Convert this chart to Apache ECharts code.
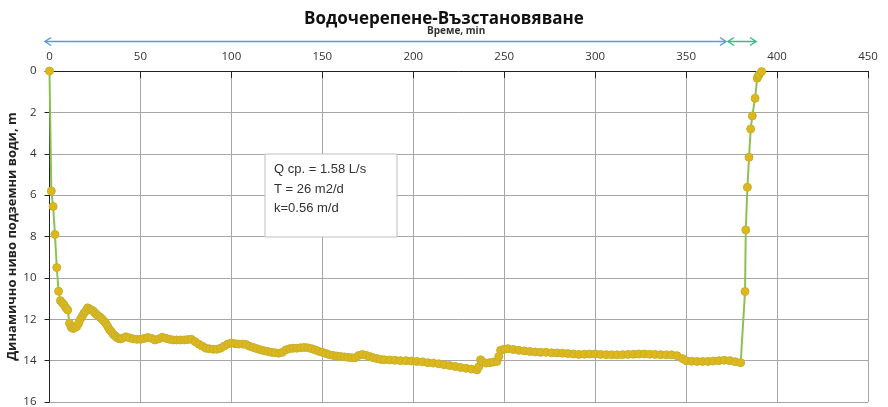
<!DOCTYPE html>
<html>
<head>
<meta charset="utf-8">
<script src="https://cdn.jsdelivr.net/npm/echarts@6/dist/echarts.min.js"></script>
<style>
html,body{margin:0;padding:0;background:#fff;}
#chart{width:888px;height:407px;}
</style>
</head>
<body>
<div id="chart"></div>
<script>
// ---- data ----
const chartTitle = 'Водочерепене-Възстановяване';
const xAxisName = 'Време, min';
const yAxisName = 'Динамично ниво подземни води, m';
const infoLines = ['Q ср. = 1.58 L/s', 'T = 26 m2/d', 'k=0.56 m/d'];

const timeMin = [
  0,1,2,3,4,5,6,7,8,9,10,11,12,13,14,15,16,17,18,19,20,21,22,23,24,25,26,27,28,29,30,
  31,32,33,34,35,36,37,38,39,40,42,44,46,48,50,52,54,56,58,60,62,64,66,68,70,72,74,76,78,
  80,82,84,86,88,90,92,94,96,98,100,102,104,106,108,110,112,114,116,118,120,122,124,126,128,
  130,132,134,136,138,140,142,144,146,148,150,152,154,156,158,160,162,164,166,168,170,172,174,
  176,178,180,182,184,187,190,193,196,199,202,205,208,211,214,217,220,223,226,229,232,235,
  236,237,238,240,242,244,246,247,248,250,252,255,258,261,264,267,270,273,276,279,282,285,
  288,291,294,297,300,303,306,309,312,315,318,321,324,327,330,333,336,339,342,345,348,350,
  353,356,359,362,365,368,371,374,377,380,
  382.4,382.8,383.7,384.6,385.5,386.4,387.9,389.1,389.6,390,391.5
];
const levelM = [
  0,5.8,6.55,7.9,9.5,10.65,11.1,11.2,11.3,11.45,11.55,12.2,12.4,12.45,12.4,12.35,12.2,12.0,11.85,11.7,11.6,11.45,11.5,11.55,11.6,11.7,11.78,11.85,11.92,12.0,12.1,
  12.2,12.35,12.5,12.6,12.72,12.8,12.88,12.93,12.95,12.92,12.85,12.9,12.95,12.97,12.97,12.93,12.88,12.92,13.0,12.95,12.87,12.92,12.97,13.0,13.0,13.0,13.0,12.98,12.97,
  13.08,13.2,13.3,13.4,13.43,13.45,13.45,13.4,13.3,13.2,13.15,13.18,13.2,13.2,13.22,13.3,13.36,13.42,13.48,13.52,13.56,13.6,13.62,13.64,13.6,
  13.48,13.42,13.4,13.4,13.38,13.36,13.38,13.42,13.48,13.55,13.6,13.66,13.72,13.75,13.78,13.8,13.82,13.84,13.86,13.86,13.75,13.7,13.74,
  13.8,13.86,13.9,13.94,13.96,13.97,13.98,14.0,14.0,14.02,14.04,14.06,14.1,14.12,14.15,14.2,14.24,14.28,14.33,14.37,14.41,14.45,
  14.3,13.96,14.05,14.12,14.1,14.07,14.04,13.8,13.5,13.45,13.42,13.46,13.5,13.53,13.56,13.58,13.6,13.6,13.62,13.63,13.64,13.66,
  13.68,13.7,13.69,13.68,13.68,13.7,13.71,13.72,13.72,13.71,13.7,13.69,13.68,13.68,13.69,13.7,13.71,13.72,13.72,13.76,13.9,14.0,
  14.03,14.04,14.04,14.04,14.02,14.0,13.98,14.0,14.05,14.1,
  10.66,7.68,5.62,4.17,2.8,2.17,1.32,0.35,0.25,0.19,0.03
];
const xMin = 0, xMax = 450, xStep = 50;
const yMin = 0, yMax = 16, yStep = 2;

// ---- chart ----
const chart = echarts.init(document.getElementById('chart'), null, {renderer:'canvas'});
const points = timeMin.map((t, i) => [t, levelM[i]]);

function arrow(x1, x2, y, color) {
  return [
    {type:'line', shape:{x1:x1, y1:y, x2:x2, y2:y}, style:{stroke:color, lineWidth:1.5}, z:10},
    {type:'polyline', shape:{points:[[x1+6,y-4],[x1,y],[x1+6,y+4]]}, style:{stroke:color, fill:null, lineWidth:1.5}, z:10},
    {type:'polyline', shape:{points:[[x2-6,y-4],[x2,y],[x2-6,y+4]]}, style:{stroke:color, fill:null, lineWidth:1.5}, z:10}
  ];
}

const option = {
  backgroundColor:'#ffffff',
  animation:false,
  title:{
    text: chartTitle, left:'center', top:6,
    textStyle:{fontFamily:'Open Sans', fontWeight:'bold', fontSize:17, color:'#111'}
  },
  grid:{left:49.5, right:20, top:71, bottom:5, containLabel:false, outerBoundsMode:'none'},
  xAxis:{
    type:'value', position:'top', min:xMin, max:xMax, interval:xStep,
    axisLine:{show:true, onZero:false, lineStyle:{color:'#222', width:1}},
    axisTick:{show:true, inside:true, length:7, lineStyle:{color:'#222'}},
    axisLabel:{margin:8, fontFamily:'Open Sans', fontSize:11.5, color:'#333'},
    splitLine:{show:true, lineStyle:{color:'#a6a6a6', width:1}}
  },
  yAxis:{
    type:'value', inverse:true, min:yMin, max:yMax, interval:yStep,
    name: yAxisName, nameLocation:'middle', nameGap:31, nameRotate:90, nameMoveOverlap:false,
    nameTextStyle:{fontFamily:'Open Sans', fontWeight:'bold', fontSize:13, color:'#222'},
    axisLine:{show:true, onZero:false, lineStyle:{color:'#222', width:1}},
    axisTick:{show:true, inside:false, length:5, lineStyle:{color:'#222'}},
    axisLabel:{margin:13, fontFamily:'Open Sans', fontSize:11.5, color:'#333'},
    splitLine:{show:true, lineStyle:{color:'#a6a6a6', width:1}}
  },
  series:[{
    type:'line', data: points,
    symbol:'circle', symbolSize:8, showSymbol:true,
    lineStyle:{color:'#8cc152', width:2},
    itemStyle:{color:'#e0b61a', borderColor:'#c2b330', borderWidth:1},
    z:3
  }],
  graphic:[
    {type:'text', left:427, top:26, style:{text:xAxisName, font:'bold 10px "Open Sans"', fill:'#333'}, z:10},
    ...arrow(45, 726, 41.5, '#5b9bd5'),
    ...arrow(728, 756, 41.5, '#3dbb86'),
    {type:'rect', shape:{x:265, y:154, width:132, height:83}, style:{fill:'#ffffff', stroke:'#bfbfbf', lineWidth:1}, z:20},
    {type:'text', left:274, top:160, style:{text:infoLines.join('\n'), font:'13px "Liberation Sans"', fill:'#333', lineHeight:19.5}, z:21}
  ]
};
chart.setOption(option);
</script>
</body>
</html>
